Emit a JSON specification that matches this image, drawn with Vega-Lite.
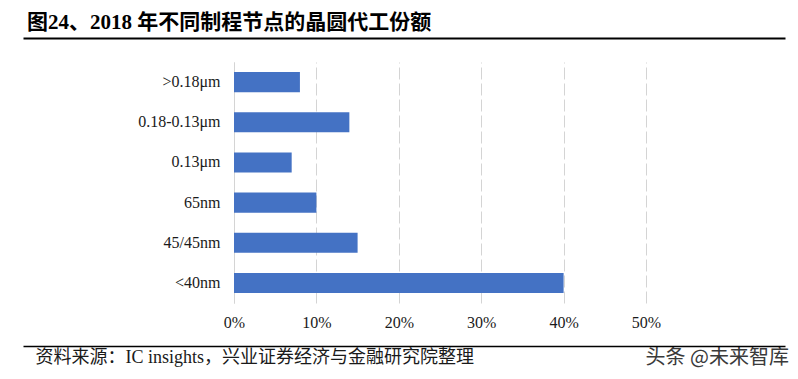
{
  "$schema": "https://vega.github.io/schema/vega-lite/v6.json",
  "autosize": {"type": "none"},
  "width": 762,
  "height": 241,
  "padding": {"left": 23, "top": 62, "right": 13, "bottom": 76},
  "background": "white",
  "config": {"view": {"stroke": null}},
  "title": {
    "text": "图24、2018 年不同制程节点的晶圆代工份额",
    "anchor": "start",
    "frame": "group",
    "offset": 5,
    "dx": 4,
    "font": "Liberation Serif, Noto Sans CJK SC",
    "fontSize": 21,
    "fontWeight": "bold",
    "color": "#000000"
  },
  "data": {
    "values": [
      {"node": ">0.18μm", "share": 0.08},
      {"node": "0.18-0.13μm", "share": 0.14},
      {"node": "0.13μm", "share": 0.07},
      {"node": "65nm", "share": 0.10},
      {"node": "45/45nm", "share": 0.15},
      {"node": "<40nm", "share": 0.40}
    ]
  },
  "resolve": {"scale": {"x": "independent"}, "axis": {"x": "independent"}},
  "layer": [
    {
      "mark": {"type": "bar", "color": "#4472C4"},
      "encoding": {
        "y": {
          "field": "node",
          "type": "nominal",
          "sort": null,
          "scale": {"paddingInner": 0.5, "paddingOuter": 0.25},
          "axis": {
            "title": null,
            "offset": -211,
            "domain": true,
            "domainColor": "#d4d4d4",
            "domainWidth": 1,
            "ticks": false,
            "tickSize": 0,
            "labelPadding": 14,
            "labelFont": "Liberation Serif",
            "labelFontSize": 16,
            "labelColor": "#1a1a1a",
            "grid": false
          }
        },
        "x": {
          "field": "share",
          "type": "quantitative",
          "scale": {"domain": [0, 0.5], "range": [211, 623], "nice": false},
          "axis": {
            "orient": "bottom",
            "title": null,
            "values": [0, 0.1, 0.2, 0.3, 0.4, 0.5],
            "format": ".0%",
            "domain": false,
            "ticks": false,
            "tickSize": 0,
            "labelFlush": false,
            "labelPadding": 11,
            "labelFont": "Liberation Serif",
            "labelFontSize": 16,
            "labelColor": "#1a1a1a",
            "grid": true,
            "gridColor": "#d4d4d4",
            "gridWidth": 1,
            "gridDash": [12, 4]
          }
        }
      }
    },
    {
      "mark": {"type": "point", "opacity": 0},
      "encoding": {
        "x": {
          "field": "share",
          "type": "quantitative",
          "scale": {"domain": [0, 1], "nice": false},
          "axis": {
            "orient": "top",
            "offset": 24,
            "domain": true,
            "domainColor": "#000000",
            "domainWidth": 2,
            "labels": false,
            "ticks": false,
            "grid": false,
            "title": "头条 @未来智库",
            "titleX": 622,
            "titleY": 319,
            "titleAlign": "left",
            "titleBaseline": "middle",
            "titleAnchor": null,
            "titleFont": "Noto Sans CJK SC",
            "titleFontSize": 20,
            "titleFontWeight": "normal",
            "titleColor": "#3a3a3a"
          }
        }
      }
    },
    {
      "mark": {"type": "point", "opacity": 0},
      "encoding": {
        "x": {
          "field": "share",
          "type": "quantitative",
          "scale": {"domain": [0, 1], "nice": false},
          "axis": {
            "orient": "bottom",
            "offset": 43,
            "domain": true,
            "domainColor": "#000000",
            "domainWidth": 1.5,
            "labels": false,
            "ticks": false,
            "grid": false,
            "title": "资料来源：IC insights，兴业证券经济与金融研究院整理",
            "titleX": 12,
            "titleY": 11,
            "titleAlign": "left",
            "titleBaseline": "middle",
            "titleFont": "Liberation Serif, Noto Sans CJK SC",
            "titleFontSize": 18,
            "titleFontWeight": "normal",
            "titleColor": "#1a1a1a"
          }
        }
      }
    }
  ]
}
